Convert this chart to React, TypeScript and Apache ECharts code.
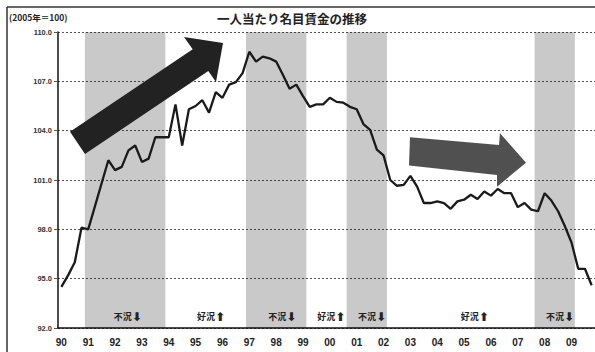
import React, { useEffect, useRef } from "react";
import * as echarts from "echarts";

// ---- data ----
const years = ["90","91","92","93","94","95","96","97","98","99","00","01","02","03","04","05","06","07","08","09"];
const quarters = ["Q1","Q2","Q3","Q4"];
const categories = years.flatMap((y) => quarters.map((q) => y + q));

// quarterly nominal wage per person index (2005 = 100), 1990Q1 - 2009Q4
const wages = [
  94.5, 95.2, 96.0, 98.1, 98.0, 99.4, 100.8, 102.2,
  101.6, 101.8, 102.8, 103.1, 102.1, 102.3, 103.6, 103.6,
  103.6, 105.6, 103.1, 105.3, 105.5, 105.85, 105.1, 106.35,
  106.0, 106.8, 106.95, 107.5, 108.8, 108.2, 108.5, 108.4,
  108.2, 107.4, 106.55, 106.8, 106.1, 105.45, 105.6, 105.6,
  106.0, 105.75, 105.7, 105.45, 105.3, 104.4, 104.05, 102.85,
  102.5, 101.0, 100.65, 100.7, 101.25, 100.6, 99.6, 99.6,
  99.7, 99.6, 99.25, 99.7, 99.8, 100.1, 99.85, 100.3,
  100.05, 100.45, 100.2, 100.2, 99.35, 99.6, 99.2, 99.1,
  100.2, 99.75, 99.1, 98.2, 97.2, 95.6, 95.6, 94.6,
];

// recession periods (first quarter, last quarter)
const recessions = [
  ["91Q1", "93Q4"],
  ["97Q1", "99Q1"],
  ["00Q4", "02Q1"],
  ["07Q4", "09Q1"],
];

// annotations: text and position in quarters from 1990Q1
const annotationTexts = ["不況⬇", "好況⬆", "不況⬇", "好況⬆", "不況⬇", "好況⬆", "不況⬇"];
const annotationPos = [10.4, 22.8, 33.4, 40.7, 46.8, 62.1, 74.8];
const annotationLevel = 92.68;

const yTicks = { min: 92, max: 110, interval: 3 };

const idx = (q: string) => categories.indexOf(q);

export default function App() {
  const ref = useRef<HTMLDivElement>(null);
  useEffect(() => {
    document.body.style.margin = "0";
    const chart = echarts.init(ref.current!, null, { renderer: "svg" });
    chart.setOption({
      animation: false,
      backgroundColor: "#ffffff",
      grid: { left: 58, right: 0, top: 32, bottom: 24 },
      xAxis: [
        {
          type: "category",
          data: categories,
          boundaryGap: true,
          axisLine: { lineStyle: { color: "#111", width: 1.5 } },
          axisTick: { interval: 0, length: 3, lineStyle: { color: "#444" } },
          axisLabel: {
            interval: 3,
            formatter: (v: string) => v.slice(0, 2),
            fontSize: 10,
            fontWeight: "bold",
            color: "#222",
            margin: 9,
            fontFamily: "Liberation Sans",
          },
          splitLine: { show: false },
        },
        { type: "value", min: 0, max: categories.length, show: false },
      ],
      yAxis: {
        type: "value",
        min: yTicks.min,
        max: yTicks.max,
        interval: yTicks.interval,
        axisLine: { show: true, lineStyle: { color: "#111", width: 1.5 } },
        axisTick: { show: true, length: 4, lineStyle: { color: "#555" } },
        axisLabel: {
          formatter: (v: number) => v.toFixed(1),
          fontSize: 7.5,
          fontWeight: "bold",
          color: "#333",
          margin: 6,
          fontFamily: "Liberation Sans",
        },
        splitLine: { show: true, lineStyle: { type: [2, 2], color: "#555", width: 1 } },
      },
      series: [
        {
          type: "line",
          xAxisIndex: 1,
          data: [],
          z: 1,
          silent: true,
          markArea: {
            silent: true,
            itemStyle: { color: "rgba(0,0,0,0.21)" },
            data: recessions.map(([s, e]) => [{ xAxis: idx(s) }, { xAxis: idx(e) + 1 }]),
          },
          markPoint: {
            silent: true,
            symbol: "rect",
            symbolSize: 1,
            itemStyle: { color: "rgba(0,0,0,0)" },
            label: {
              show: true,
              position: "inside",
              formatter: (p: any) => `{t|${p.name.slice(0, -1)}}{a|${p.name.slice(-1)}}`,
              rich: {
                t: {
                  fontSize: 9,
                  fontWeight: "bold",
                  color: "#222",
                  fontFamily: '"Noto Sans CJK JP"',
                },
                a: {
                  fontSize: 12,
                  fontWeight: "bold",
                  color: "#222",
                  fontFamily: '"DejaVu Sans"',
                },
              },
            },
            data: annotationTexts.map((t, i) => ({ name: t, coord: [annotationPos[i], annotationLevel] })),
          },
        },
        {
          type: "line",
          data: wages,
          symbol: "none",
          z: 3,
          lineStyle: { color: "#1a1a1a", width: 2.3 },
        },
      ],
      graphic: [
        { type: "line", shape: { x1: 7, y1: 7, x2: 595, y2: 7 }, style: { stroke: "#333", lineWidth: 1.5 }, z: 20 },
        { type: "line", shape: { x1: 7, y1: 7, x2: 7, y2: 352 }, style: { stroke: "#333", lineWidth: 1.5 }, z: 20 },
        {
          type: "text",
          x: 9,
          y: 17,
          style: {
            text: "(2005年＝100)",
            font: 'bold 8.5px "Noto Sans CJK JP", "Liberation Sans"',
            fill: "#222",
            verticalAlign: "middle",
          },
          z: 20,
        },
        {
          type: "text",
          x: 292,
          y: 18,
          style: {
            text: "一人当たり名目賃金の推移",
            font: 'bold 12.5px "Noto Sans CJK JP"',
            fill: "#222",
            align: "center",
            verticalAlign: "middle",
          },
          z: 20,
        },
        {
          type: "polygon",
          shape: {
            points: [
              [70, 131.7], [192.7, 49.2], [184, 37], [223, 43], [216, 82], [208.3, 71.1], [85, 154],
            ],
          },
          style: { fill: "#222222" },
          z: 10,
        },
        {
          type: "polygon",
          shape: {
            points: [
              [410, 137.3], [499, 145], [500, 133.3], [526, 162.7], [497, 186.7], [497, 175], [409, 165.5],
            ],
          },
          style: { fill: "#505050" },
          z: 10,
        },
      ],
    });
    return () => chart.dispose();
  }, []);
  return (
    <div
      ref={ref}
      style={{ position: "absolute", left: 0, top: 0, width: 595, height: 352, background: "#fff" }}
    />
  );
}
